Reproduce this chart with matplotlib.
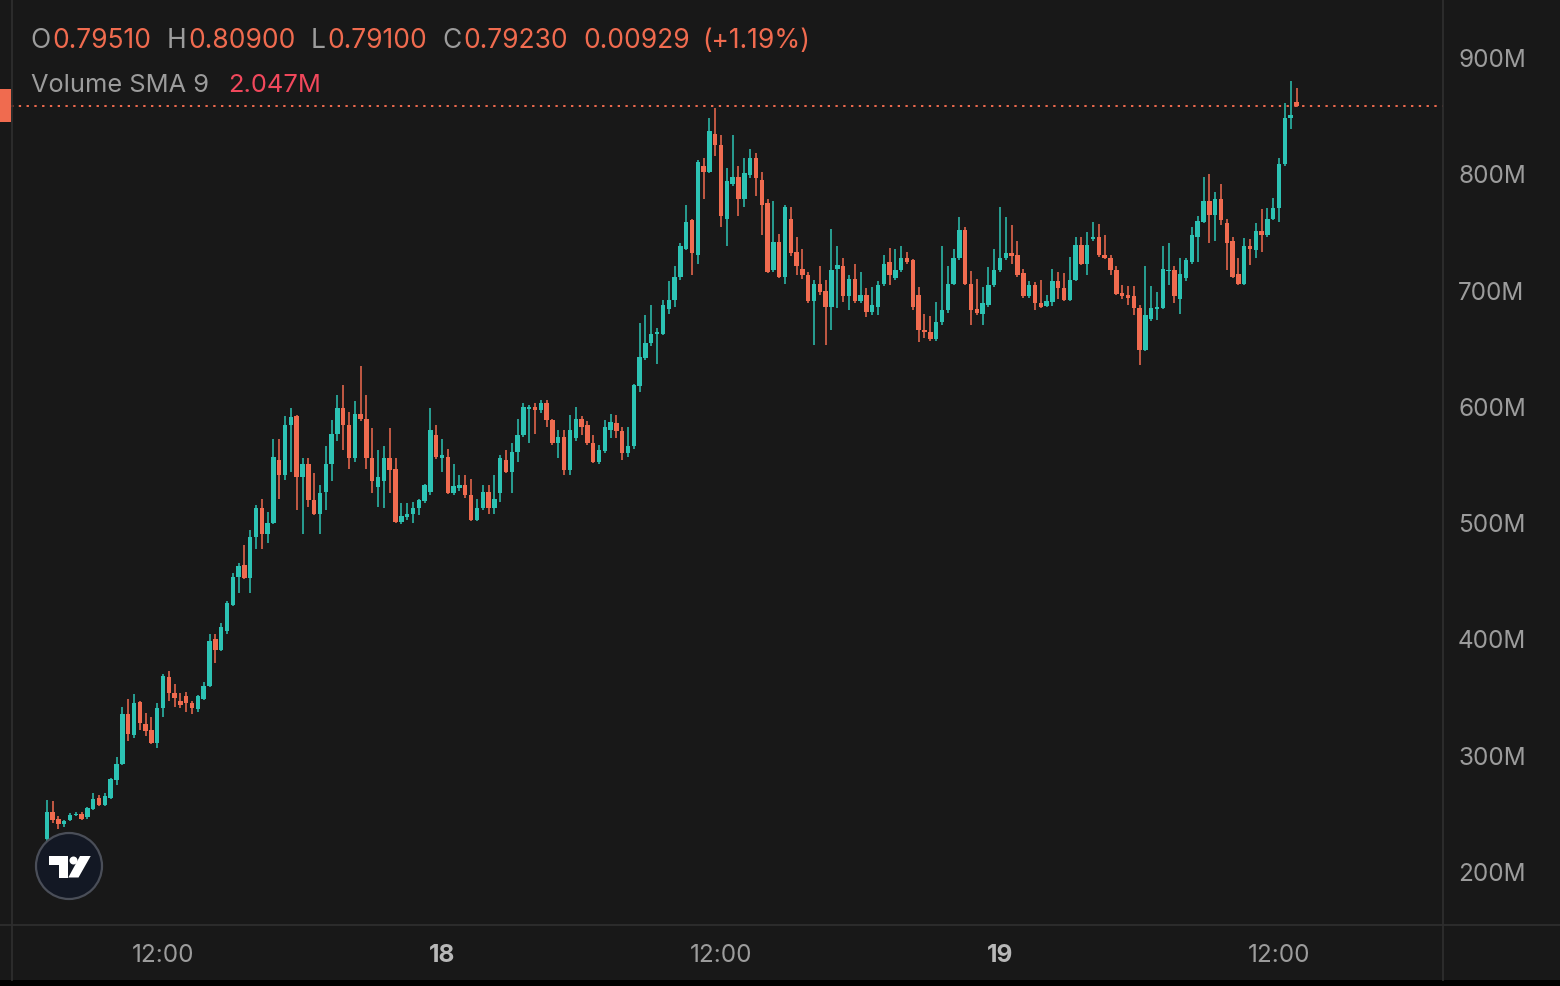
import numpy as np
import matplotlib.pyplot as plt
from matplotlib.patches import Circle, Polygon, Rectangle

# 15-minute candles, values in M
opens = [228, 252, 246, 241, 245, 249, 250, 247, 254, 264, 258, 264, 279, 293, 336, 318, 346, 327, 322, 311,
         341, 368, 354, 347, 351, 345, 340, 349, 360, 400, 391, 407, 430, 454, 464, 453, 488, 513, 491, 500,
         554, 541, 584, 592, 540, 551, 520, 508, 527, 551, 577, 599, 584, 556, 594, 590, 556, 531, 536, 556,
         547, 501, 505, 508, 513, 519, 527, 576, 556, 557, 526, 530, 533, 524, 503, 513, 527, 513, 526, 554,
         544, 561, 576, 598, 600, 597, 603, 589, 569, 574, 546, 573, 590, 584, 569, 553, 562, 580, 586, 579,
         560, 566, 618, 642, 655, 663, 663, 684, 692, 712, 736, 761, 731, 807, 802, 835, 825, 762, 792, 798,
         779, 799, 814, 795, 775, 718, 742, 712, 762, 733, 719, 713, 691, 706, 700, 686, 719, 721, 695, 710,
         691, 696, 682, 686, 706, 725, 711, 718, 728, 726, 696, 666, 664, 658, 673, 683, 706, 728, 752, 706,
         684, 680, 688, 705, 718, 728, 732, 731, 715, 695, 705, 689, 687, 690, 708, 702, 692, 709, 739, 723,
         744, 746, 731, 728, 718, 698, 696, 695, 685, 649, 676, 684, 685, 717, 718, 693, 711, 725, 746, 759,
         777, 765, 779, 758, 743, 714, 706, 738, 735, 751, 748, 762, 771, 809, 848, 862]
highs = [262, 261, 248, 245, 251, 252, 252, 256, 268, 266, 268, 281, 299, 342, 349, 353, 347, 337, 333, 345,
         370, 373, 362, 354, 355, 347, 352, 363, 405, 405, 414, 433, 457, 466, 481, 494, 516, 521, 510, 572,
         572, 592, 599, 593, 556, 556, 543, 533, 566, 589, 610, 619, 596, 605, 635, 610, 582, 563, 566, 582,
         556, 517, 517, 518, 521, 534, 599, 584, 572, 564, 551, 541, 541, 538, 521, 533, 533, 541, 559, 563,
         569, 590, 603, 602, 603, 606, 606, 590, 580, 580, 593, 600, 592, 588, 576, 567, 589, 594, 593, 583,
         583, 620, 672, 679, 688, 668, 692, 708, 721, 741, 774, 762, 812, 814, 848, 857, 834, 805, 834, 807,
         814, 822, 818, 802, 779, 777, 749, 774, 772, 746, 736, 716, 709, 721, 709, 753, 738, 728, 713, 723,
         716, 702, 703, 708, 731, 737, 736, 738, 733, 727, 703, 680, 678, 690, 738, 721, 736, 763, 755, 717,
         710, 703, 720, 736, 772, 763, 756, 743, 719, 708, 707, 709, 696, 719, 716, 715, 729, 746, 746, 750,
         759, 757, 748, 731, 721, 705, 704, 704, 688, 721, 704, 699, 738, 741, 721, 728, 728, 755, 764, 798,
         800, 785, 792, 762, 746, 728, 745, 744, 758, 770, 771, 780, 814, 861, 880, 874]
lows = [224, 242, 237, 239, 244, 248, 245, 246, 253, 257, 257, 263, 275, 292, 313, 315, 322, 317, 310, 307,
        333, 347, 342, 341, 338, 336, 338, 348, 359, 380, 390, 405, 429, 440, 452, 440, 478, 478, 483, 499,
        521, 537, 544, 511, 491, 514, 507, 491, 511, 536, 571, 563, 547, 553, 588, 547, 526, 514, 513, 526,
        500, 499, 503, 500, 507, 517, 524, 555, 544, 525, 524, 528, 522, 502, 502, 511, 508, 508, 518, 543,
        526, 553, 574, 569, 577, 595, 583, 567, 556, 541, 541, 571, 576, 567, 552, 551, 560, 573, 573, 554,
        557, 564, 613, 640, 652, 637, 662, 680, 686, 709, 735, 713, 723, 779, 801, 816, 755, 738, 790, 764,
        772, 797, 781, 748, 715, 716, 711, 706, 730, 713, 710, 689, 653, 696, 653, 666, 685, 690, 683, 689,
        689, 677, 679, 679, 704, 705, 709, 716, 723, 683, 656, 659, 657, 657, 670, 681, 705, 726, 705, 670,
        679, 670, 686, 703, 716, 726, 723, 712, 694, 694, 683, 685, 686, 687, 693, 691, 691, 708, 722, 713,
        743, 729, 727, 713, 696, 693, 688, 679, 636, 648, 674, 675, 684, 705, 689, 680, 708, 723, 725, 758,
        741, 743, 756, 718, 711, 705, 705, 722, 728, 733, 746, 761, 759, 807, 839, 858]
closes = [252, 245, 241, 244, 249, 250, 246, 255, 263, 258, 265, 280, 293, 336, 319, 345, 328, 321, 311, 341,
          369, 354, 350, 344, 345, 341, 351, 360, 399, 391, 411, 431, 454, 463, 453, 488, 513, 491, 500, 557,
          541, 584, 591, 540, 551, 520, 508, 526, 551, 577, 599, 584, 556, 594, 590, 556, 536, 540, 556, 546,
          501, 506, 508, 513, 520, 533, 580, 557, 559, 526, 532, 533, 524, 503, 513, 527, 513, 521, 556, 544,
          561, 576, 600, 600, 597, 603, 589, 569, 574, 546, 580, 590, 583, 569, 553, 563, 583, 587, 579, 560,
          566, 619, 643, 655, 663, 664, 688, 692, 712, 738, 759, 732, 811, 802, 837, 825, 764, 794, 798, 779,
          801, 814, 797, 774, 716, 742, 712, 772, 732, 721, 713, 691, 706, 699, 686, 718, 722, 695, 710, 691,
          696, 682, 688, 705, 723, 713, 718, 728, 725, 686, 666, 664, 658, 673, 683, 706, 728, 752, 706, 683,
          681, 689, 705, 718, 728, 732, 730, 713, 695, 705, 689, 686, 691, 708, 702, 692, 709, 739, 723, 739,
          746, 731, 728, 718, 697, 695, 694, 685, 649, 679, 685, 686, 719, 718, 695, 714, 726, 748, 760, 777,
          765, 779, 761, 741, 712, 706, 738, 736, 751, 748, 762, 771, 809, 848, 851, 859]

x_tick_pos = [20, 68, 116, 164, 212]
x_tick_labels = ['12:00', '18', '12:00', '19', '12:00']
y_ticks = [200, 300, 400, 500, 600, 700, 800, 900]
y_tick_labels = ['200M', '300M', '400M', '500M', '600M', '700M', '800M', '900M']

BG = '#181818'
UP = '#2cc2b3'
DOWN = '#f06b4f'
GRAY = '#9c9c9c'
LINE = '#2e2e2e'
FONT = ['Inter', 'DejaVu Sans']
W, H = 1560, 986

o = np.array(opens, dtype=float)
h = np.array(highs, dtype=float)
l = np.array(lows, dtype=float)
c = np.array(closes, dtype=float)
idx = np.arange(len(o))
cols = np.where(c >= o, UP, DOWN)

fig = plt.figure(figsize=(W / 100, H / 100), dpi=100, facecolor=BG)
ax = fig.add_axes([11 / W, (H - 925) / H, (1443 - 11) / W, 925 / H])
ax.set_facecolor(BG)

ax.vlines(idx, l, h, colors=cols, linewidth=1.1, zorder=2)
ax.bar(idx, np.maximum(np.abs(c - o), 0.9), bottom=np.minimum(o, c), width=0.76,
       color=cols, linewidth=0, zorder=3)

# last price line
ax.axhline(c[-1], color=DOWN, linestyle=(0, (1.2, 2.8)), linewidth=1.4, zorder=1)

ax.set_xlim(-6.15, 240.2)
ax.set_ylim(154.45, 949.9)
for s in ax.spines.values():
    s.set_visible(False)

ax.yaxis.tick_right()
ax.set_yticks(y_ticks)
ax.set_yticklabels(y_tick_labels)
ax.tick_params(axis='y', length=0, pad=10.8, labelsize=17.5, labelcolor=GRAY)
ax.set_xticks(x_tick_pos)
ax.set_xticklabels(x_tick_labels)
ax.tick_params(axis='x', length=0, pad=13.5, labelsize=17.5, labelcolor=GRAY)
for t in ax.get_xticklabels() + ax.get_yticklabels():
    t.set_family(FONT)
for t in ax.get_xticklabels():
    if t.get_text() in ('18', '19'):
        t.set_fontweight('bold')
        t.set_color('#b8b8b8')

# overlay in pixel coordinates: frame lines, price marker, logo
ov = fig.add_axes([0, 0, 1, 1], zorder=5)
ov.set_xlim(0, W)
ov.set_ylim(H, 0)
ov.axis('off')
ov.patch.set_alpha(0)
ov.add_patch(Rectangle((0, 980), W, 6, color='#000000', linewidth=0))
ov.plot([11.5, 11.5], [0, 980], color=LINE, lw=1.3)
ov.plot([1443, 1443], [0, 980], color=LINE, lw=1.3)
ov.plot([0, W], [924.5, 924.5], color=LINE, lw=1.3)
ov.add_patch(Rectangle((0, 89), 11, 33, color=DOWN, linewidth=0))

ov.add_patch(Circle((69, 866), 33, facecolor='#131824', edgecolor='#4a4e58', lw=1.6))
ov.add_patch(Polygon([(48.5, 856), (67.7, 856), (67.7, 877.5), (58.5, 877.5), (58.5, 865), (48.5, 865)],
                     closed=True, color='white', linewidth=0))
ov.add_patch(Circle((73.5, 860.5), 4, color='white', linewidth=0))
ov.add_patch(Polygon([(80, 856), (90.7, 856), (78.5, 877.5), (68.3, 877.5)],
                     closed=True, color='white', linewidth=0))

# header rows
rend = fig.canvas.get_renderer()


def row(x, y, parts, size):
    for txt, col, gap in parts:
        t = fig.text(x / W, 1 - y / H, txt, color=col, fontsize=size, va='center', ha='left', family=FONT)
        x += t.get_window_extent(renderer=rend).width + gap


row(30, 41, [('O', GRAY, 2), ('0.79510', DOWN, 15), ('H', GRAY, 2), ('0.80900', DOWN, 15),
             ('L', GRAY, 2), ('0.79100', DOWN, 15), ('C', GRAY, 2), ('0.79230', DOWN, 15),
             ('0.00929', DOWN, 13), ('(+1.19%)', DOWN, 0)], 19)
row(31, 86, [('Volume SMA 9', GRAY, 19), ('2.047M', '#f1485c', 0)], 18.3)

fig.savefig('out.png', dpi=100, facecolor=BG)
